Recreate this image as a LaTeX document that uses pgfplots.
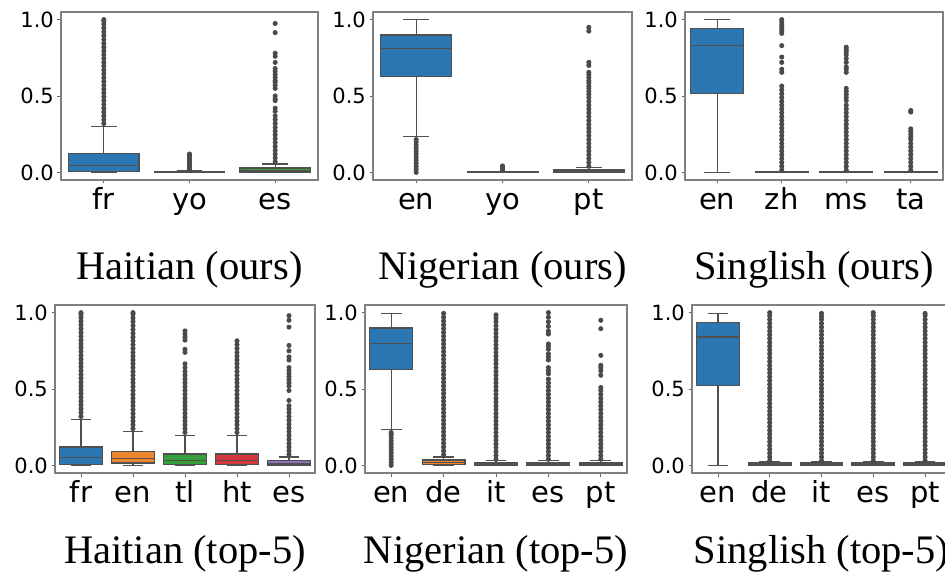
\documentclass[border=0pt]{standalone}
\usepackage{fontspec}
\setmainfont{DejaVu Sans}
\newfontfamily\titlefont{Liberation Serif}
\usepackage{pgfplots}
\pgfplotsset{compat=1.18}
\usepgfplotslibrary{statistics}

\definecolor{cb}{HTML}{2A77B4}
\definecolor{co}{HTML}{EE8630}
\definecolor{cg}{HTML}{35A03A}
\definecolor{cr}{HTML}{D2383B}
\definecolor{cp}{HTML}{9270B8}
\definecolor{lg}{HTML}{505050}
\definecolor{fl}{HTML}{4A4A4A}

\pgfplotsset{
  panel/.style={
    scale only axis, height=168pt,
    ymin=-0.05, ymax=1.05, ytick={0,0.5,1},
    xmin=-0.5,
    axis line style={draw=black!50, line width=1.1pt},
    tick align=outside, major tick length=3.5pt,
    tick style={draw=black!60, line width=0.8pt},
    xtick pos=left, ytick pos=left,
    yticklabel style={font=\fontsize{21}{21}\selectfont, inner sep=0pt, anchor=east, xshift=-3.5pt,
      /pgf/number format/.cd, fixed, fixed zerofill, precision=1, assume math mode=true},
    xticklabel style={font=\fontsize{29}{29}\selectfont, inner sep=0pt, anchor=north,
      text height=22pt, text depth=7pt, yshift=-3.5pt},
    boxplot/draw direction=y,
  },
  bx/.style={draw=lg, line width=1.2pt, mark=*, mark size=2.1pt,
    mark options={draw=fl, fill=fl, line width=0.8pt, solid},
    boxplot/draw direction=y,
    boxplot/box extend=0.82,
    boxplot/every box/.style={draw=lg, line width=1.2pt, fill=#1},
    boxplot/every median/.style={draw=lg, line width=1.2pt},
    boxplot/every whisker/.style={draw=lg, line width=1.2pt},
  },
}

\begin{document}
\begin{tikzpicture}
% ===== Haitian (ours)
\begin{axis}[panel, at={(61pt,401pt)}, anchor=south west, width=257pt, xmax=2.5,
  xtick={0,1,2}, xticklabels={fr,yo,es}, boxplot/whisker extend=0.3]
\addplot[bx=cb, boxplot prepared={draw position=0, lower whisker=0, lower quartile=0.008, median=0.045, upper quartile=0.126, upper whisker=0.30}] table[row sep=\\, y index=0]{v\\0.32\\0.345\\0.37\\0.395\\0.42\\0.445\\0.47\\0.495\\0.52\\0.545\\0.57\\0.595\\0.62\\0.645\\0.67\\0.695\\0.72\\0.745\\0.77\\0.795\\0.82\\0.845\\0.87\\0.895\\0.92\\0.945\\0.97\\0.99\\1.0\\};
\addplot[bx=co, boxplot prepared={draw position=1, lower whisker=0, lower quartile=0, median=0.002, upper quartile=0.006, upper whisker=0.012}] table[row sep=\\, y index=0]{v\\0.02\\0.035\\0.05\\0.065\\0.08\\0.095\\0.11\\0.12\\};
\addplot[bx=cg, boxplot prepared={draw position=2, lower whisker=0, lower quartile=0.002, median=0.01, upper quartile=0.028, upper whisker=0.055}] table[row sep=\\, y index=0]{v\\0.07\\0.095\\0.12\\0.145\\0.17\\0.195\\0.22\\0.245\\0.27\\0.295\\0.32\\0.345\\0.37\\0.40\\0.42\\0.47\\0.48\\0.50\\0.55\\0.57\\0.59\\0.60\\0.62\\0.64\\0.66\\0.68\\0.72\\0.76\\0.78\\0.915\\0.975\\};
\end{axis}
% ===== Nigerian (ours)
\begin{axis}[panel, at={(373pt,401pt)}, anchor=south west, width=259pt, xmax=2.5,
  xtick={0,1,2}, xticklabels={en,yo,pt}, boxplot/whisker extend=0.3]
\addplot[bx=cb, boxplot prepared={draw position=0, lower whisker=0.235, lower quartile=0.627, median=0.81, upper quartile=0.90, upper whisker=1.0}] table[row sep=\\, y index=0]{v\\0.0\\0.02\\0.04\\0.06\\0.08\\0.10\\0.12\\0.14\\0.16\\0.18\\0.20\\0.215\\};
\addplot[bx=co, boxplot prepared={draw position=1, lower whisker=0, lower quartile=0, median=0.001, upper quartile=0.004, upper whisker=0.008}] table[row sep=\\, y index=0]{v\\0.015\\0.025\\0.035\\0.042\\};
\addplot[bx=cg, boxplot prepared={draw position=2, lower whisker=0, lower quartile=0.002, median=0.008, upper quartile=0.016, upper whisker=0.03}] table[row sep=\\, y index=0]{v\\0.04\\0.065\\0.09\\0.115\\0.14\\0.165\\0.19\\0.215\\0.24\\0.265\\0.29\\0.315\\0.34\\0.365\\0.39\\0.415\\0.44\\0.465\\0.49\\0.51\\0.53\\0.55\\0.565\\0.585\\0.60\\0.62\\0.64\\0.655\\0.70\\0.72\\0.925\\0.95\\};
\end{axis}
% ===== Singlish (ours)
\begin{axis}[panel, at={(685pt,401pt)}, anchor=south west, width=258pt, xmax=3.5,
  xtick={0,1,2,3}, xticklabels={en,zh,ms,ta}, boxplot/whisker extend=0.4]
\addplot[bx=cb, boxplot prepared={draw position=0, lower whisker=0, lower quartile=0.514, median=0.83, upper quartile=0.94, upper whisker=1.0}] coordinates {};
\addplot[bx=co, boxplot prepared={draw position=1, lower whisker=0, lower quartile=0, median=0.001, upper quartile=0.004, upper whisker=0.008}] table[row sep=\\, y index=0]{v\\0.015\\0.04\\0.065\\0.09\\0.115\\0.14\\0.165\\0.19\\0.215\\0.24\\0.265\\0.29\\0.315\\0.34\\0.365\\0.39\\0.415\\0.44\\0.465\\0.49\\0.515\\0.54\\0.565\\0.655\\0.675\\0.72\\0.755\\0.83\\0.91\\0.925\\0.94\\0.955\\0.97\\0.985\\1.0\\};
\addplot[bx=cg, boxplot prepared={draw position=2, lower whisker=0, lower quartile=0, median=0.001, upper quartile=0.004, upper whisker=0.008}] table[row sep=\\, y index=0]{v\\0.015\\0.04\\0.065\\0.09\\0.115\\0.14\\0.165\\0.19\\0.215\\0.24\\0.265\\0.29\\0.315\\0.34\\0.365\\0.39\\0.415\\0.44\\0.47\\0.49\\0.51\\0.53\\0.55\\0.655\\0.675\\0.69\\0.72\\0.745\\0.77\\0.79\\0.805\\0.82\\};
\addplot[bx=cr, boxplot prepared={draw position=3, lower whisker=0, lower quartile=0, median=0.001, upper quartile=0.004, upper whisker=0.008}] table[row sep=\\, y index=0]{v\\0.015\\0.04\\0.065\\0.09\\0.115\\0.14\\0.165\\0.19\\0.215\\0.23\\0.25\\0.27\\0.285\\0.395\\0.405\\};
\end{axis}
% ===== Haitian (top-5)
\begin{axis}[panel, at={(55pt,108pt)}, anchor=south west, width=260pt, xmax=4.5,
  xtick={0,1,2,3,4}, xticklabels={fr,en,tl,ht,es}, boxplot/whisker extend=0.4]
\addplot[bx=cb, boxplot prepared={draw position=0, lower whisker=0, lower quartile=0.008, median=0.05, upper quartile=0.12, upper whisker=0.30}] table[row sep=\\, y index=0]{v\\0.32\\0.345\\0.37\\0.395\\0.42\\0.445\\0.47\\0.495\\0.52\\0.545\\0.57\\0.595\\0.62\\0.645\\0.67\\0.695\\0.72\\0.745\\0.77\\0.795\\0.82\\0.845\\0.87\\0.895\\0.92\\0.945\\0.97\\0.99\\1.0\\};
\addplot[bx=co, boxplot prepared={draw position=1, lower whisker=0, lower quartile=0.015, median=0.045, upper quartile=0.09, upper whisker=0.22}] table[row sep=\\, y index=0]{v\\0.24\\0.265\\0.29\\0.315\\0.34\\0.365\\0.39\\0.415\\0.44\\0.465\\0.49\\0.515\\0.54\\0.565\\0.59\\0.615\\0.64\\0.665\\0.69\\0.715\\0.74\\0.765\\0.79\\0.815\\0.84\\0.865\\0.89\\0.915\\0.94\\0.965\\0.99\\1.0\\};
\addplot[bx=cg, boxplot prepared={draw position=2, lower whisker=0, lower quartile=0.005, median=0.03, upper quartile=0.075, upper whisker=0.195}] table[row sep=\\, y index=0]{v\\0.215\\0.24\\0.265\\0.29\\0.315\\0.34\\0.365\\0.39\\0.415\\0.44\\0.465\\0.49\\0.515\\0.54\\0.565\\0.59\\0.615\\0.64\\0.665\\0.74\\0.76\\0.82\\0.84\\0.86\\0.88\\};
\addplot[bx=cr, boxplot prepared={draw position=3, lower whisker=0, lower quartile=0.005, median=0.03, upper quartile=0.075, upper whisker=0.195}] table[row sep=\\, y index=0]{v\\0.215\\0.24\\0.265\\0.29\\0.315\\0.34\\0.365\\0.39\\0.415\\0.44\\0.465\\0.49\\0.515\\0.54\\0.565\\0.59\\0.615\\0.64\\0.665\\0.69\\0.715\\0.74\\0.765\\0.79\\0.815\\};
\addplot[bx=cp, boxplot prepared={draw position=4, lower whisker=0, lower quartile=0.003, median=0.012, upper quartile=0.03, upper whisker=0.055}] table[row sep=\\, y index=0]{v\\0.07\\0.095\\0.12\\0.145\\0.17\\0.195\\0.22\\0.245\\0.27\\0.295\\0.32\\0.345\\0.37\\0.39\\0.425\\0.49\\0.52\\0.54\\0.56\\0.58\\0.60\\0.62\\0.64\\0.69\\0.71\\0.75\\0.785\\0.905\\0.95\\0.98\\};
\end{axis}
% ===== Nigerian (top-5)
\begin{axis}[panel, at={(365pt,108pt)}, anchor=south west, width=262pt, xmax=4.5,
  xtick={0,1,2,3,4}, xticklabels={en,de,it,es,pt}, boxplot/whisker extend=0.4]
\addplot[bx=cb, boxplot prepared={draw position=0, lower whisker=0.233, lower quartile=0.627, median=0.80, upper quartile=0.90, upper whisker=0.995}] table[row sep=\\, y index=0]{v\\0.0\\0.02\\0.04\\0.06\\0.08\\0.10\\0.12\\0.14\\0.16\\0.18\\0.20\\0.215\\};
\addplot[bx=co, boxplot prepared={draw position=1, lower whisker=0, lower quartile=0.005, median=0.018, upper quartile=0.035, upper whisker=0.055}] table[row sep=\\, y index=0]{v\\0.07\\0.095\\0.12\\0.145\\0.17\\0.195\\0.22\\0.245\\0.27\\0.295\\0.32\\0.345\\0.37\\0.395\\0.42\\0.445\\0.47\\0.495\\0.52\\0.545\\0.57\\0.595\\0.62\\0.645\\0.67\\0.695\\0.72\\0.745\\0.77\\0.795\\0.82\\0.845\\0.87\\0.895\\0.92\\0.945\\0.97\\0.995\\};
\addplot[bx=cg, boxplot prepared={draw position=2, lower whisker=0, lower quartile=0.002, median=0.008, upper quartile=0.015, upper whisker=0.03}] table[row sep=\\, y index=0]{v\\0.04\\0.065\\0.09\\0.115\\0.14\\0.165\\0.19\\0.215\\0.24\\0.265\\0.29\\0.315\\0.34\\0.365\\0.39\\0.415\\0.44\\0.465\\0.49\\0.515\\0.54\\0.565\\0.59\\0.615\\0.64\\0.665\\0.69\\0.715\\0.74\\0.765\\0.79\\0.815\\0.84\\0.865\\0.89\\0.915\\0.94\\0.965\\0.985\\};
\addplot[bx=cr, boxplot prepared={draw position=3, lower whisker=0, lower quartile=0.002, median=0.008, upper quartile=0.015, upper whisker=0.03}] table[row sep=\\, y index=0]{v\\0.04\\0.065\\0.09\\0.115\\0.14\\0.165\\0.19\\0.215\\0.24\\0.265\\0.29\\0.315\\0.34\\0.365\\0.39\\0.415\\0.44\\0.465\\0.49\\0.515\\0.54\\0.565\\0.60\\0.62\\0.64\\0.69\\0.71\\0.73\\0.76\\0.78\\0.795\\0.86\\0.88\\0.91\\0.94\\0.97\\1.0\\};
\addplot[bx=cp, boxplot prepared={draw position=4, lower whisker=0, lower quartile=0.002, median=0.008, upper quartile=0.015, upper whisker=0.03}] table[row sep=\\, y index=0]{v\\0.04\\0.065\\0.09\\0.115\\0.14\\0.165\\0.19\\0.215\\0.24\\0.265\\0.29\\0.315\\0.34\\0.365\\0.39\\0.415\\0.44\\0.465\\0.49\\0.51\\0.59\\0.62\\0.64\\0.655\\0.72\\0.895\\0.95\\};
\end{axis}
% ===== Singlish (top-5)
\begin{axis}[panel, at={(692pt,108pt)}, anchor=south west, width=259pt, xmax=4.5,
  xtick={0,1,2,3,4}, xticklabels={en,de,it,es,pt}, boxplot/whisker extend=0.4]
\addplot[bx=cb, boxplot prepared={draw position=0, lower whisker=0, lower quartile=0.523, median=0.84, upper quartile=0.937, upper whisker=0.995}] coordinates {};
\addplot[bx=co, boxplot prepared={draw position=1, lower whisker=0, lower quartile=0.002, median=0.008, upper quartile=0.015, upper whisker=0.025}] table[row sep=\\, y index=0]{v\\0.03\\0.055\\0.08\\0.105\\0.13\\0.155\\0.18\\0.205\\0.23\\0.255\\0.28\\0.305\\0.33\\0.355\\0.38\\0.405\\0.43\\0.455\\0.48\\0.505\\0.53\\0.555\\0.58\\0.605\\0.63\\0.655\\0.68\\0.705\\0.73\\0.755\\0.78\\0.805\\0.83\\0.855\\0.88\\0.905\\0.93\\0.955\\0.98\\1.0\\};
\addplot[bx=cg, boxplot prepared={draw position=2, lower whisker=0, lower quartile=0.002, median=0.008, upper quartile=0.015, upper whisker=0.025}] table[row sep=\\, y index=0]{v\\0.03\\0.055\\0.08\\0.105\\0.13\\0.155\\0.18\\0.205\\0.23\\0.255\\0.28\\0.305\\0.33\\0.355\\0.38\\0.405\\0.43\\0.455\\0.48\\0.505\\0.53\\0.555\\0.58\\0.605\\0.63\\0.655\\0.68\\0.705\\0.73\\0.755\\0.78\\0.805\\0.83\\0.855\\0.88\\0.905\\0.93\\0.955\\0.975\\0.995\\};
\addplot[bx=cr, boxplot prepared={draw position=3, lower whisker=0, lower quartile=0.002, median=0.008, upper quartile=0.015, upper whisker=0.025}] table[row sep=\\, y index=0]{v\\0.03\\0.055\\0.08\\0.105\\0.13\\0.155\\0.18\\0.205\\0.23\\0.255\\0.28\\0.305\\0.33\\0.355\\0.38\\0.405\\0.43\\0.455\\0.48\\0.505\\0.53\\0.555\\0.58\\0.605\\0.63\\0.655\\0.68\\0.705\\0.73\\0.755\\0.78\\0.805\\0.83\\0.855\\0.88\\0.905\\0.93\\0.955\\0.98\\1.0\\};
\addplot[bx=cp, boxplot prepared={draw position=4, lower whisker=0, lower quartile=0.002, median=0.008, upper quartile=0.015, upper whisker=0.025}] table[row sep=\\, y index=0]{v\\0.03\\0.055\\0.08\\0.105\\0.13\\0.155\\0.18\\0.205\\0.23\\0.255\\0.28\\0.305\\0.33\\0.355\\0.38\\0.405\\0.43\\0.455\\0.48\\0.505\\0.53\\0.555\\0.58\\0.605\\0.63\\0.655\\0.68\\0.705\\0.73\\0.755\\0.78\\0.805\\0.83\\0.855\\0.88\\0.905\\0.93\\0.955\\0.98\\0.995\\};
\end{axis}
% ===== titles
\begin{scope}[every node/.style={anchor=base, font=\titlefont\fontsize{40.5}{40.5}\selectfont, inner sep=0pt}]
\node at (189.5pt,301pt) {Haitian (ours)};
\node at (502.5pt,301pt) {Nigerian (ours)};
\node at (814pt,301pt) {Singlish (ours)};
\node at (185pt,18pt) {Haitian (top-5)};
\node at (496pt,18pt) {Nigerian (top-5)};
\node at (821.5pt,18pt) {Singlish (top-5)};
\end{scope}
\pgfresetboundingbox
\path[use as bounding box] (0pt,0pt) rectangle (945pt,581pt);
\end{tikzpicture}
\end{document}
